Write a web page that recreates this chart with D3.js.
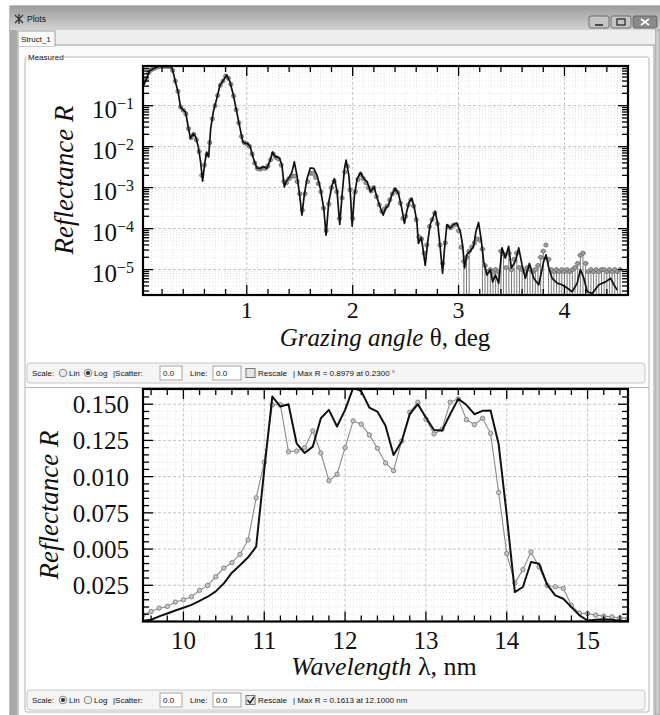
<!doctype html>
<html>
<head>
<meta charset="utf-8"/>
<title>Plots</title>
<script src="https://cdnjs.cloudflare.com/ajax/libs/d3/7.8.5/d3.min.js"></script>
<style>
  body { margin: 0; background: #fff; }
  .serif { font-family: "Liberation Serif", "Times New Roman", serif; fill: #111; }
  .ui { font-family: "Liberation Sans", Arial, sans-serif; font-size: 8px; fill: #111; }
</style>
</head>
<body>
<svg width="660" height="715"></svg>
<script>
// ---- top plot: reflectance vs grazing angle (log scale), values are [theta deg, log10 R]
var angleModel = [
  [0.027,-0.505],[0.084,-0.14],[0.147,-0.06],[0.178,-0.035],[0.230,-0.047],[0.289,-0.05],[0.305,-0.18],[0.330,-0.46],
  [0.352,-0.67],[0.374,-1.03],[0.400,-1.11],[0.422,-1.15],[0.447,-1.52],[0.469,-1.80],[0.494,-1.68],[0.517,-1.76],
  [0.542,-2.00],[0.564,-2.37],[0.583,-2.84],[0.605,-2.37],[0.621,-2.13],[0.640,-2.25],[0.659,-1.56],[0.684,-1.15],
  [0.716,-0.83],[0.747,-0.50],[0.779,-0.38],[0.810,-0.25],[0.842,-0.42],[0.874,-0.75],[0.905,-1.15],[0.937,-1.56],
  [0.962,-1.88],[0.984,-1.92],[1.006,-1.92],[1.032,-2.00],[1.063,-2.29],[1.095,-2.52],[1.126,-2.53],[1.158,-2.49],
  [1.190,-2.53],[1.221,-2.33],[1.243,-2.13],[1.269,-2.25],[1.291,-2.25],[1.310,-2.29],[1.332,-2.45],[1.354,-2.98],
  [1.379,-2.82],[1.404,-2.74],[1.427,-2.62],[1.449,-2.37],[1.474,-2.70],[1.499,-3.18],[1.521,-3.67],[1.543,-3.18],
  [1.569,-2.78],[1.600,-2.52],[1.632,-2.53],[1.664,-2.70],[1.695,-3.02],[1.727,-3.51],[1.749,-4.16],[1.774,-3.35],
  [1.806,-2.94],[1.828,-2.78],[1.853,-3.10],[1.878,-3.90],[1.900,-3.18],[1.923,-2.53],[1.938,-2.33],[1.964,-2.70],
  [1.979,-3.18],[1.995,-3.94],[2.017,-3.18],[2.043,-2.78],[2.074,-2.63],[2.106,-2.78],[2.137,-2.86],[2.169,-3.10],
  [2.201,-2.98],[2.232,-3.26],[2.264,-3.51],[2.289,-3.67],[2.311,-3.50],[2.338,-3.43],[2.369,-3.18],[2.401,-3.02],
  [2.432,-3.14],[2.464,-3.51],[2.489,-3.87],[2.511,-3.58],[2.533,-3.35],[2.558,-3.26],[2.584,-3.51],[2.606,-3.83],
  [2.621,-4.36],[2.647,-4.22],[2.659,-4.40],[2.685,-4.90],[2.710,-4.30],[2.732,-3.90],[2.757,-3.74],[2.779,-3.58],
  [2.804,-3.90],[2.827,-4.47],[2.849,-5.09],[2.868,-4.47],[2.890,-3.90],[2.921,-3.99],[2.953,-3.90],[2.984,-3.87],
  [3.016,-4.07],[3.038,-4.40],[3.057,-4.96],[3.079,-4.63],[3.110,-4.55],[3.142,-4.43],[3.164,-4.07],[3.189,-3.85],
  [3.215,-4.30],[3.237,-4.80],[3.268,-5.13],[3.300,-5.00],[3.322,-5.30],[3.347,-5.13],[3.379,-5.33],[3.410,-4.47],
  [3.442,-4.72],[3.473,-4.43],[3.498,-4.96],[3.536,-4.80],[3.568,-4.47],[3.599,-4.88],[3.631,-5.21],[3.669,-4.85],
  [3.710,-5.21],[3.757,-5.37],[3.804,-4.80],[3.826,-4.64],[3.852,-4.96],[3.883,-5.21],[3.931,-5.33],[3.978,-5.37],
  [4.025,-5.45],[4.073,-5.54],[4.120,-5.33],[4.151,-5.00],[4.183,-5.21],[4.215,-5.54],[4.262,-5.58],[4.325,-5.37],
  [4.388,-5.30],[4.435,-5.21],[4.467,-5.37],[4.498,-5.50]
];

var angleMeasured = [
  [0.050,-0.36],[0.075,-0.19],[0.100,-0.12],[0.125,-0.09],[0.150,-0.06],[0.175,-0.04],[0.200,-0.04],[0.225,-0.04],
  [0.250,-0.04],[0.275,-0.045],[0.300,-0.14],[0.325,-0.40],[0.350,-0.65],[0.375,-1.03],[0.400,-1.11],[0.425,-1.20],
  [0.450,-1.56],[0.475,-1.78],[0.500,-1.70],[0.525,-1.83],[0.550,-2.12],[0.575,-2.70],[0.600,-2.45],[0.625,-2.20],
  [0.650,-1.90],[0.675,-1.32],[0.700,-1.00],[0.725,-0.75],[0.750,-0.50],[0.775,-0.40],[0.800,-0.28],[0.825,-0.33],
  [0.850,-0.48],[0.875,-0.76],[0.900,-1.10],[0.925,-1.42],[0.950,-1.75],[0.975,-1.90],[1.000,-1.93],[1.025,-1.99],
  [1.050,-2.18],[1.075,-2.40],[1.100,-2.53],[1.125,-2.55],[1.150,-2.52],[1.175,-2.53],[1.200,-2.47],[1.225,-2.32],
  [1.250,-2.18],[1.275,-2.26],[1.300,-2.30],[1.325,-2.45],[1.350,-2.85],[1.375,-2.88],[1.400,-2.78],[1.425,-2.72],
  [1.450,-2.72],[1.475,-2.85],[1.500,-3.15],[1.525,-3.55],[1.550,-3.15],[1.575,-2.85],[1.600,-2.65],[1.625,-2.65],
  [1.650,-2.75],[1.675,-2.90],[1.700,-3.10],[1.725,-3.50],[1.750,-4.05],[1.775,-3.40],[1.800,-3.00],[1.825,-2.85],
  [1.850,-3.10],[1.875,-3.75],[1.900,-3.25],[1.925,-2.62],[1.950,-2.48],[1.975,-3.05],[2.000,-3.75],[2.025,-3.10],
  [2.050,-2.80],[2.075,-2.68],[2.100,-2.78],[2.125,-2.88],[2.150,-3.00],[2.175,-3.08],[2.200,-3.00],[2.225,-3.22],
  [2.250,-3.42],[2.275,-3.58],[2.300,-3.52],[2.325,-3.45],[2.350,-3.30],[2.375,-3.15],[2.400,-3.05],[2.425,-3.12],
  [2.450,-3.38],[2.475,-3.75],[2.500,-3.70],[2.525,-3.42],[2.550,-3.30],[2.575,-3.45],[2.600,-3.78],[2.625,-4.20],
  [2.650,-4.25],[2.675,-4.60],[2.700,-4.40],[2.725,-3.95],[2.750,-3.78],[2.775,-3.62],[2.800,-3.88],[2.825,-4.40],
  [2.850,-4.85],[2.875,-4.35],[2.900,-3.95],[2.925,-3.98],[2.950,-3.92],[2.975,-3.90],[3.000,-4.05],[3.025,-4.45],
  [3.050,-4.80],[3.075,-4.70],[3.100,-4.55],[3.125,-4.45],[3.150,-4.35],[3.175,-4.25],[3.200,-4.28],[3.225,-4.50],
  [3.250,-4.90],[3.275,-5.05],[3.300,-5.00],[3.325,-5.05],[3.350,-5.00],[3.375,-5.05],[3.400,-4.55],[3.425,-4.62],
  [3.450,-4.95],[3.475,-4.60],[3.500,-5.00],[3.525,-4.75],[3.550,-4.60],[3.575,-4.95],[3.600,-5.00],[3.625,-5.05],
  [3.650,-4.95],[3.675,-5.00],[3.700,-5.05],[3.725,-5.00],[3.750,-4.90],[3.775,-4.70],[3.800,-4.55],[3.825,-4.40],
  [3.850,-4.75],[3.875,-5.00],[3.900,-5.05],[3.925,-5.00],[3.950,-5.05],[3.975,-5.00],[4.000,-5.05],[4.025,-5.00],
  [4.050,-5.05],[4.075,-5.00],[4.100,-4.95],[4.125,-4.85],[4.150,-4.65],[4.175,-4.60],[4.200,-4.85],[4.225,-5.05],
  [4.250,-5.00],[4.275,-5.05],[4.300,-5.00],[4.325,-5.05],[4.350,-5.00],[4.375,-5.00],[4.400,-5.05],[4.425,-5.00],
  [4.450,-5.05],[4.475,-5.00],[4.500,-5.05],[4.525,-5.00]
];

var angleTicks = [1, 2, 3, 4];
var decadeTicks = [1e-5, 1e-4, 1e-3, 1e-2, 1e-1];
var decadeExps = ["\u22125", "\u22124", "\u22123", "\u22122", "\u22121"];

// ---- bottom plot: reflectance vs wavelength (linear)
var wavelengths = [9.5, 9.6, 9.7, 9.8, 9.9, 10.0, 10.1, 10.2, 10.3, 10.4, 10.5, 10.6, 10.7, 10.8, 10.9,
  11.0, 11.1, 11.2, 11.3, 11.4, 11.5, 11.6, 11.7, 11.8, 11.9, 12.0, 12.1, 12.2, 12.3, 12.4, 12.5, 12.6, 12.7, 12.8, 12.9,
  13.0, 13.1, 13.2, 13.3, 13.4, 13.5, 13.6, 13.7, 13.8, 13.9, 14.0, 14.1, 14.2, 14.3, 14.4, 14.5, 14.6, 14.7, 14.8, 14.9,
  15.0, 15.1, 15.2, 15.3, 15.4, 15.5];
var specMeasured = [0.0046, 0.0069, 0.0092, 0.0104, 0.0134, 0.0150, 0.0171, 0.0215, 0.0249, 0.0309, 0.0369, 0.0406, 0.0464, 0.0563, 0.0854,
  0.1099, 0.1496, 0.1496, 0.1172, 0.1177, 0.1200, 0.1316, 0.1163, 0.0972, 0.1016,
  0.1200, 0.1385, 0.1362, 0.1288, 0.1196, 0.1094, 0.1041, 0.1246, 0.1445, 0.1514,
  0.1396, 0.1295, 0.1327, 0.1514, 0.1537, 0.1394, 0.1359, 0.1403, 0.1299, 0.0891,
  0.0469, 0.0265, 0.0358, 0.0480, 0.0376, 0.0249, 0.0240, 0.0229, 0.0111, 0.0058,
  0.0055, 0.0044, 0.0037, 0.0032, 0.0025, 0.0020];
var specModel = [0.0005, 0.0012, 0.0035, 0.0055, 0.0076, 0.0095, 0.0115, 0.0143, 0.0171, 0.0208, 0.0263, 0.0337, 0.0388, 0.0443, 0.0517,
  0.1046, 0.1553, 0.1484, 0.1500, 0.1230, 0.1163, 0.1207, 0.1403, 0.1461, 0.1346,
  0.1461, 0.1613, 0.1590, 0.1477, 0.1449, 0.1352, 0.1149, 0.1242, 0.1431, 0.1500,
  0.1408, 0.1322, 0.1318, 0.1431, 0.1537, 0.1496, 0.1431, 0.1454, 0.1456, 0.1223,
  0.0734, 0.0203, 0.0238, 0.0411, 0.0399, 0.0254, 0.0180, 0.0157, 0.0099, 0.0042,
  0.0007, 0.0012, 0.0016, 0.0012, 0.0005, 0.0003];
var waveTicks = [10, 11, 12, 13, 14, 15];
var reflTicks = [0.025, 0.05, 0.075, 0.1, 0.125, 0.15];
var reflTickLabels = ["0.025", "0.005", "0.075", "0.010", "0.125", "0.150"];

var svg = d3.select("svg");
var defs = svg.append("defs");

// ---------- window chrome ----------
var tb = defs.append("linearGradient").attr("id", "tbar").attr("x1", 0).attr("y1", 0).attr("x2", 0).attr("y2", 1);
tb.append("stop").attr("offset", "0%").attr("stop-color", "#9d9d9d");
tb.append("stop").attr("offset", "100%").attr("stop-color", "#d2d2d2");

svg.append("rect").attr("x", 10).attr("y", 6).attr("width", 650).attr("height", 709)
  .attr("fill", "#d9d9d9").attr("stroke", "#7d7d7d");
svg.append("rect").attr("x", 10).attr("y", 6).attr("width", 650).attr("height", 24).attr("fill", "url(#tbar)");
svg.append("rect").attr("x", 11).attr("y", 30).attr("width", 6).attr("height", 685).attr("fill", "#a9a9a9");
svg.append("rect").attr("x", 655).attr("y", 30).attr("width", 5).attr("height", 685).attr("fill", "#c9c9c9")
  .attr("stroke", "#9a9a9a").attr("stroke-width", 0.8);

// title
svg.append("path").attr("d", "M15,15 L23,23 M23,15 L15,23 M19,14 L19,24").attr("stroke", "#333").attr("stroke-width", 1.3);
svg.append("text").attr("class", "ui").attr("x", 27).attr("y", 22).style("font-size", "8.5px").text("Plots");

// window buttons
[[589, 20, "min"], [611, 20, "max"], [633, 24, "close"]].forEach(function (b) {
  svg.append("rect").attr("x", b[0]).attr("y", 16).attr("width", b[1]).attr("height", 12).attr("rx", 2)
    .attr("fill", b[2] == "close" ? "#8a8a8a" : "#c4c4c4").attr("stroke", "#5a5a5a").attr("stroke-width", 0.8);
});
svg.append("line").attr("x1", 595).attr("x2", 603).attr("y1", 25).attr("y2", 25).attr("stroke", "#222").attr("stroke-width", 1.5);
svg.append("rect").attr("x", 617).attr("y", 19).attr("width", 8).attr("height", 6).attr("fill", "none").attr("stroke", "#222").attr("stroke-width", 1.2);
svg.append("path").attr("d", "M641,19 L649,25 M649,19 L641,25").attr("stroke", "#fff").attr("stroke-width", 1.6);

// tab and pane
svg.append("rect").attr("x", 17).attr("y", 30).attr("width", 638).attr("height", 685).attr("fill", "#eeeeee");
svg.append("rect").attr("x", 18).attr("y", 45).attr("width", 636).attr("height", 672).attr("fill", "#fbfbfb").attr("stroke", "#9c9c9c");
svg.append("rect").attr("x", 18).attr("y", 31).attr("width", 37).attr("height", 15).attr("fill", "#fbfbfb").attr("stroke", "#9c9c9c");
svg.append("line").attr("x1", 18.5).attr("x2", 54.5).attr("y1", 45.5).attr("y2", 45.5).attr("stroke", "#fbfbfb");
svg.append("text").attr("class", "ui").attr("x", 21).attr("y", 42).text("Struct_1");

// group box
svg.append("rect").attr("x", 25).attr("y", 57).attr("width", 624).attr("height", 655).attr("rx", 2)
  .attr("fill", "#ffffff").attr("stroke", "#b5b5b5");
svg.append("rect").attr("x", 27).attr("y", 52).attr("width", 36).attr("height", 10).attr("fill", "#fbfbfb");
svg.append("text").attr("class", "ui").attr("x", 28).attr("y", 60).text("Measured");
svg.append("line").attr("x1", 25).attr("x2", 649).attr("y1", 387.5).attr("y2", 387.5).attr("stroke", "#b5b5b5");

// ---------- helpers ----------
function gridLines(g, x, y, xs, ys, color, dash) {
  var x0 = x.range()[0], x1 = x.range()[1], y0 = y.range()[0], y1 = y.range()[1];
  g.append("g").selectAll("line").data(xs).join("line")
    .attr("x1", function (d) { return x(d); }).attr("x2", function (d) { return x(d); })
    .attr("y1", y0).attr("y2", y1).attr("stroke", color).attr("stroke-dasharray", dash);
  g.append("g").selectAll("line").data(ys).join("line")
    .attr("y1", function (d) { return y(d); }).attr("y2", function (d) { return y(d); })
    .attr("x1", x0).attr("x2", x1).attr("stroke", color).attr("stroke-dasharray", dash);
}

function tickMarks(g, x, y, xs, ys, len) {
  var x0 = x.range()[0], x1 = x.range()[1], y0 = y.range()[0], y1 = y.range()[1];
  var t = g.append("g").attr("stroke", "#000").attr("stroke-width", 1.3);
  xs.forEach(function (d) {
    t.append("line").attr("x1", x(d)).attr("x2", x(d)).attr("y1", y0).attr("y2", y0 - len);
    t.append("line").attr("x1", x(d)).attr("x2", x(d)).attr("y1", y1).attr("y2", y1 + len);
  });
  ys.forEach(function (d) {
    t.append("line").attr("y1", y(d)).attr("y2", y(d)).attr("x1", x0).attr("x2", x0 + len);
    t.append("line").attr("y1", y(d)).attr("y2", y(d)).attr("x1", x1).attr("x2", x1 - len);
  });
}

function frame(g, x, y) {
  g.append("rect").attr("x", x.range()[0]).attr("y", y.range()[1])
    .attr("width", x.range()[1] - x.range()[0]).attr("height", y.range()[0] - y.range()[1])
    .attr("fill", "none").attr("stroke", "#000").attr("stroke-width", 2.2);
}

function clipFor(id, x, y) {
  defs.append("clipPath").attr("id", id).append("rect")
    .attr("x", x.range()[0]).attr("y", y.range()[1])
    .attr("width", x.range()[1] - x.range()[0]).attr("height", y.range()[0] - y.range()[1]);
  return "url(#" + id + ")";
}

// ---------- top plot ----------
var xA = d3.scaleLinear().domain([0.02, 4.6]).range([143, 628]);
var yA = d3.scaleLog().domain([2.4e-6, 0.93]).range([295, 66]);
var gTop = svg.append("g");
gTop.append("rect").attr("x", 143).attr("y", 66).attr("width", 485).attr("height", 229).attr("fill", "#fff");

var angleMinor = d3.range(0.2, 4.6, 0.2).filter(function (d) { return Math.abs(d - Math.round(d)) > 1e-6; });
var angleGridMinor = d3.range(0.1, 4.6, 0.1).filter(function (d) { return Math.abs(d - Math.round(d)) > 1e-6; });
var logMinor = [];
[-6, -5, -4, -3, -2, -1].forEach(function (k) {
  d3.range(2, 10).forEach(function (m) {
    var v = m * Math.pow(10, k);
    if (v > yA.domain()[0] && v < yA.domain()[1]) logMinor.push(v);
  });
});

gridLines(gTop, xA, yA, angleGridMinor, logMinor, "#e3e3e3", "1,2");
gridLines(gTop, xA, yA, angleTicks, decadeTicks, "#c4c4c4", "3,2");

var clipTop = clipFor("clipTop", xA, yA);
var dataTop = gTop.append("g").attr("clip-path", clipTop);
var toR = function (d) { return Math.pow(10, d[1]); };

// error bars on the noisy measured points near the noise floor
var noisy = angleMeasured.filter(function (d) { return d[0] > 3 && d[1] <= -4.5; });
dataTop.append("g").attr("stroke", "#7a7a7a").attr("stroke-width", 1)
  .selectAll("line").data(noisy).join("line")
  .attr("x1", function (d) { return xA(d[0]); }).attr("x2", function (d) { return xA(d[0]); })
  .attr("y1", function (d) { return yA(toR(d)); }).attr("y2", 296);
dataTop.append("g").attr("stroke", "#7a7a7a").attr("stroke-width", 1)
  .selectAll("line").data(noisy).join("line")
  .attr("x1", function (d) { return xA(d[0]) - 3; }).attr("x2", function (d) { return xA(d[0]) + 3; })
  .attr("y1", function (d) { return yA(toR(d)); }).attr("y2", function (d) { return yA(toR(d)); });

dataTop.append("g").selectAll("circle").data(angleMeasured).join("circle")
  .attr("cx", function (d) { return xA(d[0]); }).attr("cy", function (d) { return yA(toR(d)); })
  .attr("r", 2.1).attr("fill", "#9c9c9c").attr("stroke", "#6c6c6c").attr("stroke-width", 0.8);

dataTop.append("path").datum(angleModel)
  .attr("d", d3.line().x(function (d) { return xA(d[0]); }).y(function (d) { return yA(toR(d)); }))
  .attr("fill", "none").attr("stroke", "#111").attr("stroke-width", 1.7).attr("stroke-linejoin", "round");

tickMarks(gTop, xA, yA, angleMinor, logMinor, 6);
tickMarks(gTop, xA, yA, angleTicks, decadeTicks, 10);
frame(gTop, xA, yA);

gTop.selectAll(".xl").data(angleTicks).join("text").attr("class", "serif")
  .attr("x", function (d) { return xA(d); }).attr("y", 318).attr("text-anchor", "middle")
  .style("font-size", "24px").text(function (d) { return d; });

var yl = gTop.selectAll(".yl").data(decadeTicks).join("text").attr("class", "serif")
  .attr("x", 134).attr("y", function (d) { return yA(d) + 12; }).attr("text-anchor", "end")
  .style("font-size", "25px");
yl.append("tspan").text("10");
yl.append("tspan").attr("dy", -9).style("font-size", "16px").text(function (d, i) { return decadeExps[i]; });

var tx = gTop.append("text").attr("class", "serif").attr("x", 385).attr("y", 346)
  .attr("text-anchor", "middle").style("font-size", "25px");
tx.append("tspan").style("font-style", "italic").text("Grazing angle");
tx.append("tspan").text(" \u03b8, deg");

gTop.append("text").attr("class", "serif").attr("transform", "translate(73,180) rotate(-90)")
  .attr("text-anchor", "middle").style("font-size", "27px").style("font-style", "italic").text("Reflectance R");

// ---------- bottom plot ----------
var xW = d3.scaleLinear().domain([9.5, 15.5]).range([143, 628]);
var yW = d3.scaleLinear().domain([0, 0.1605]).range([621.5, 389]);
var gBot = svg.append("g");
gBot.append("rect").attr("x", 143).attr("y", 389).attr("width", 485).attr("height", 232.5).attr("fill", "#fff");

var waveMinor = d3.range(9.6, 15.5, 0.2).filter(function (d) { return Math.abs(d - Math.round(d)) > 1e-6; });
var waveGridMinor = d3.range(9.6, 15.5, 0.1).filter(function (d) { return Math.abs(d - Math.round(d)) > 1e-6; });
var reflMinor = d3.range(0.005, 0.16, 0.005).filter(function (d) { return Math.abs(d / 0.025 - Math.round(d / 0.025)) > 1e-6; });

gridLines(gBot, xW, yW, waveGridMinor, reflMinor, "#e3e3e3", "1,2");
gridLines(gBot, xW, yW, waveTicks, reflTicks, "#c4c4c4", "3,2");

var clipBot = clipFor("clipBot", xW, yW);
var dataBot = gBot.append("g").attr("clip-path", clipBot);
var specLine = d3.line().x(function (d, i) { return xW(wavelengths[i]); }).y(function (d) { return yW(d); });

dataBot.append("path").datum(specMeasured).attr("d", specLine)
  .attr("fill", "none").attr("stroke", "#8a8a8a").attr("stroke-width", 1.1);
dataBot.append("g").selectAll("circle").data(specMeasured).join("circle")
  .attr("cx", function (d, i) { return xW(wavelengths[i]); }).attr("cy", function (d) { return yW(d); })
  .attr("r", 2.2).attr("fill", "#c6c6c6").attr("stroke", "#7d7d7d").attr("stroke-width", 0.9);
dataBot.append("path").datum(specModel).attr("d", specLine)
  .attr("fill", "none").attr("stroke", "#111").attr("stroke-width", 2).attr("stroke-linejoin", "round");

tickMarks(gBot, xW, yW, waveMinor, reflMinor, 6);
tickMarks(gBot, xW, yW, waveTicks, reflTicks, 10);
frame(gBot, xW, yW);

gBot.selectAll(".xl").data(waveTicks).join("text").attr("class", "serif")
  .attr("x", function (d) { return xW(d); }).attr("y", 649).attr("text-anchor", "middle")
  .style("font-size", "25px").text(function (d) { return d; });
gBot.selectAll(".yl").data(reflTicks).join("text").attr("class", "serif")
  .attr("x", 129).attr("y", function (d) { return yW(d) + 9; }).attr("text-anchor", "end")
  .style("font-size", "25px").text(function (d, i) { return reflTickLabels[i]; });

var tw = gBot.append("text").attr("class", "serif").attr("x", 384).attr("y", 675)
  .attr("text-anchor", "middle").style("font-size", "26px");
tw.append("tspan").style("font-style", "italic").text("Wavelength");
tw.append("tspan").text(" \u03bb, nm");

gBot.append("text").attr("class", "serif").attr("transform", "translate(58,505) rotate(-90)")
  .attr("text-anchor", "middle").style("font-size", "27px").style("font-style", "italic").text("Reflectance R");

// ---------- control bars ----------
function controlBar(y0, linOn, rescaleOn, maxText) {
  var g = svg.append("g");
  g.append("rect").attr("x", 27).attr("y", y0).attr("width", 618).attr("height", 20).attr("rx", 3)
    .attr("fill", "#f5f5f5").attr("stroke", "#c6c6c6");
  var ty = y0 + 13;
  g.append("text").attr("class", "ui").attr("x", 32).attr("y", ty).text("Scale:");
  [[63, "Lin", linOn], [88, "Log", !linOn]].forEach(function (r) {
    g.append("circle").attr("cx", r[0]).attr("cy", y0 + 10).attr("r", 3.8).attr("fill", "#eaeaea").attr("stroke", "#8a8a8a");
    if (r[2]) g.append("circle").attr("cx", r[0]).attr("cy", y0 + 10).attr("r", 2.1).attr("fill", "#333");
    g.append("text").attr("class", "ui").attr("x", r[0] + 6).attr("y", ty).text(r[1]);
  });
  g.append("text").attr("class", "ui").attr("x", 113).attr("y", ty).text("|Scatter:");
  g.append("rect").attr("x", 160).attr("y", y0 + 3).attr("width", 22).attr("height", 14).attr("fill", "#fff").attr("stroke", "#a5a5a5");
  g.append("text").attr("class", "ui").attr("x", 163).attr("y", ty).text("0.0");
  g.append("text").attr("class", "ui").attr("x", 190).attr("y", ty).text("Line:");
  g.append("rect").attr("x", 213).attr("y", y0 + 3).attr("width", 28).attr("height", 14).attr("fill", "#fff").attr("stroke", "#a5a5a5");
  g.append("text").attr("class", "ui").attr("x", 216).attr("y", ty).text("0.0");
  g.append("rect").attr("x", 246).attr("y", y0 + 5.5).attr("width", 9).attr("height", 9).attr("fill", "#e6e6e6").attr("stroke", "#777");
  if (rescaleOn) g.append("path").attr("d", "M247.5," + (y0 + 10) + " l2.5,3 l4,-6").attr("fill", "none").attr("stroke", "#222").attr("stroke-width", 1.4);
  g.append("text").attr("class", "ui").attr("x", 258).attr("y", ty).text("Rescale");
  g.append("text").attr("class", "ui").attr("x", 293).attr("y", ty).text(maxText);
}
controlBar(363, false, false, "| Max R = 0.8979 at 0.2300 \u00b0");
controlBar(690, true, true, "| Max R = 0.1613 at 12.1000 nm");
</script>
</body>
</html>
